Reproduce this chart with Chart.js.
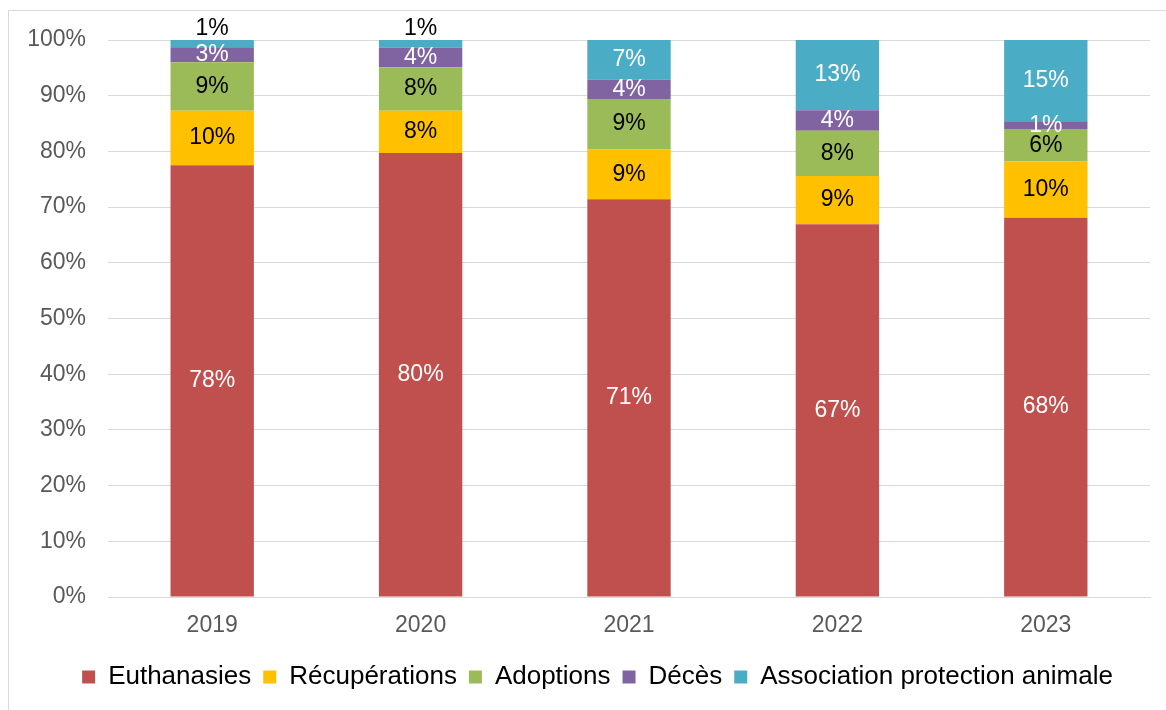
<!DOCTYPE html>
<html>
<head>
<meta charset="utf-8">
<script src="https://cdn.jsdelivr.net/npm/chart.js@4"></script>
<style>
  html, body { margin: 0; padding: 0; background: #fff; }
  #wrap { position: relative; width: 1166px; height: 710px; }
  #frame { position: absolute; left: 8px; top: 10px; width: 1200px; height: 740px; border: 1px solid #d9d9d9; }
  #myChart { position: absolute; left: 0; top: 0; }
</style>
</head>
<body>
<div id="wrap">
  <div id="frame"></div>
  <canvas id="myChart" width="1166" height="710"></canvas>
</div>
<script>
const years = ["2019", "2020", "2021", "2022", "2023"];
const euthanasies = [77.5, 79.7, 71.4, 66.9, 68.1];
const recuperations = [9.8, 7.6, 9.0, 8.7, 10.1];
const adoptions = [8.7, 7.8, 9.0, 8.1, 5.8];
const deces = [2.7, 3.5, 3.5, 3.7, 1.4];
const association = [1.3, 1.4, 7.1, 12.6, 14.6];
const yTicks = [0, 10, 20, 30, 40, 50, 60, 70, 80, 90, 100];

const FONT = "'Liberation Sans', Arial, sans-serif";
Chart.defaults.font.family = FONT;

// labels inside the segments, tiny ones go above the bar
const segmentLabels = {
  id: "segmentLabels",
  afterLayout(chart) {
    // legend sits a bit right of the canvas centre in the original
    chart.legend.left += 45;
  },
  afterDatasetsDraw(chart) {
    const c = chart.ctx;
    c.save();
    c.font = "23px " + FONT;
    c.textAlign = "center";
    c.textBaseline = "middle";
    chart.data.datasets.forEach((ds, i) => {
      const meta = chart.getDatasetMeta(i);
      meta.data.forEach((bar, j) => {
        const v = ds.data[j];
        const p = bar.getProps(["x", "y", "base"], true);
        let y = (p.y + p.base) / 2;
        let color = ds.labelColor;
        if (i === chart.data.datasets.length - 1 && v < 2) {
          y = Math.min(p.y, p.base) - 11;
          color = "#000";
        }
        c.fillStyle = color;
        c.fillText(Math.round(v) + "%", p.x, y);
      });
    });
    c.restore();
  }
};

const ctx = document.getElementById("myChart");
new Chart(ctx, {
  type: "bar",
  data: {
    labels: years,
    datasets: [
      { label: "Euthanasies", data: euthanasies, backgroundColor: "#C0504D", labelColor: "#fff" },
      { label: "Récupérations", data: recuperations, backgroundColor: "#FFC000", labelColor: "#000" },
      { label: "Adoptions", data: adoptions, backgroundColor: "#9BBB59", labelColor: "#000" },
      { label: "Décès", data: deces, backgroundColor: "#8064A2", labelColor: "#fff" },
      { label: "Association protection animale", data: association, backgroundColor: "#4BACC6", labelColor: "#fff" }
    ]
  },
  options: {
    responsive: false,
    animation: false,
    devicePixelRatio: 1,
    barPercentage: 0.4,
    categoryPercentage: 1,
    layout: { padding: { left: 0, right: 16, top: 40, bottom: 10 } },
    plugins: {
      tooltip: { enabled: false },
      legend: {
        position: "bottom",
        labels: {
          boxWidth: 13,
          boxHeight: 13,
          padding: 12,
          color: "#000",
          font: { size: 26, family: FONT }
        }
      }
    },
    scales: {
      x: {
        stacked: true,
        grid: { display: false, drawTicks: false },
        border: { display: true, color: "#d9d9d9", width: 1 },
        ticks: { color: "#595959", padding: 15, font: { size: 23 } },
        afterFit(scale) { scale.height = 55; }
      },
      y: {
        stacked: true,
        min: 0,
        max: 100,
        afterBuildTicks(scale) { scale.ticks = yTicks.map(v => ({ value: v })); },
        grid: { color: "#d9d9d9", drawTicks: false },
        border: { display: false },
        ticks: {
          color: "#595959",
          padding: 22,
          font: { size: 23 },
          callback: v => v + "%"
        },
        afterFit(scale) { scale.width = 108; }
      }
    }
  },
  plugins: [segmentLabels]
});
</script>
</body>
</html>
